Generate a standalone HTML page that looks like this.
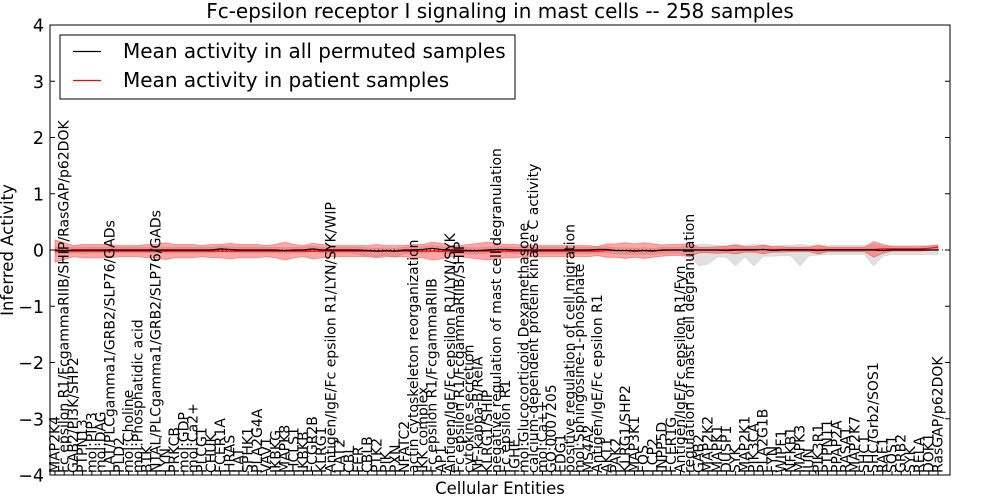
<!DOCTYPE html>
<html><head><meta charset="utf-8"><style>
body{margin:0;background:#fff;}
svg{display:block;font-family:"DejaVu Sans","Liberation Sans",sans-serif;}
</style></head><body>
<svg id="chart" width="1000" height="500" xmlns="http://www.w3.org/2000/svg">
<rect x="0" y="0" width="1000" height="500" fill="#fff"/>
<text x="500" y="18" font-size="20" text-anchor="middle">Fc-epsilon receptor I signaling in mast cells -- 258 samples</text>
<g id="plot"></g>
<rect x="50" y="25" width="900" height="450" fill="none" stroke="#000" stroke-width="1"/>
<g id="yaxis"></g>
<g id="xaxis"></g>
<text x="500" y="494" font-size="16.5" text-anchor="middle">Cellular Entities</text>
<text transform="translate(13,250) rotate(-90)" font-size="16.5" text-anchor="middle">Inferred Activity</text>
<g>
<rect x="60" y="35" width="455" height="64" fill="#fff" stroke="#000" stroke-width="1"/>
<line x1="73" y1="51.5" x2="101" y2="51.5" stroke="#000" stroke-width="1.2"/>
<text x="123" y="58" font-size="20">Mean activity in all permuted samples</text>
<line x1="73" y1="80.5" x2="101" y2="80.5" stroke="#f00" stroke-width="1.2"/>
<text x="123" y="87" font-size="20">Mean activity in patient samples</text>
</g>
</svg>
<script>
const entities=["MAP2K4","Fc epsilon R1/FcgammaRIIB/SHIP/RasGAP/p62DOK","GAB2/PI3K/SHP2","PTPN13","mol:PIP3","mol:DAG","LAT/PLCgamma1/GRB2/SLP76/GADs","PLD2","mol:Choline","mol:Phosphatidic acid","BTK","NTAL/PLCgamma1/GRB2/SLP76/GADs","LYN","PRKCB","mol:GDP","mol:Ca2+","PLCG1","CHUK","FCER1A","HRAS","LAT","SPHK1","PLA2G4A","VAV1","IKBKG","MAPK8","HCLS1","IKBKB","FCGR2B","KLRG1","Antigen/IgE/Fc epsilon R1/LYN/SYK/WIP","LAT2","CBL","FER","CBLB","PTK2","PIK","PXN","NFATC2","actin cytoskeleton reorganization","IKK complex","Fc epsilon R1/FcgammaRIIB","AP1","Antigen/IgE/Fc epsilon R1/LYN/SYK","Fc epsilon R1/FcgammaRIIB/SHIP","cytokine secretion","NF-kappa-B/RelA","KLRG1/SHIP","negative regulation of mast cell degranulation","Fc epsilon R1","IGHE","mol:Glucocorticoid Dexamethasone","calcium-dependent protein kinase C activity","mol:Ca++","GO:0007205","EDG1","positive regulation of cell migration","mol:Sphingosine-1-phosphate","MS4A2","Antigen/IgE/Fc epsilon R1","AKT1","PAK2","KLRG1/SHP2","MAP3K1","FOS","LCP2","INPP5D","FCER1G","Antigen/IgE/Fc epsilon R1/Fyn","regulation of mast cell degranulation","GAB2","MAP2K2","MAPK1","DUSP1","SYK","MAP2K1","PIK3CA","PLA2G1B","FYN","WIPF1","NFKB1","MAPK3","JUN","PIK3R1","PTPN11","PPAP2A","RASA1","MAP2K7","SHC1","SHC/Grb2/SOS1","RAF1","SOS1","GRB2","SYK","RELA","DOK1","RasGAP/p62DOK"];
const permMean=[0,-0.01,0,0,0,0,0,0,0,0,0,0,0,0,0,0,0,0,0.02,0.01,0,0,0,0,0,-0.01,0,0,0.02,0,0,0,0,0,-0.01,-0.02,-0.01,-0.02,0,0,0.01,0.03,0.01,0,0,-0.01,-0.01,0,0.01,0.01,0,0,0,0,0,0,0,0,0,0.01,0.01,-0.01,-0.01,-0.02,-0.01,-0.02,0,0,0,0,0,0,0,-0.01,0,0,0,0.01,-0.01,0,0,0,0,-0.01,0,0,0,0,0,0,-0.01,0,0,0,0,0,0];
const permLow=[0.06,0.06,0.05,0.06,0.05,0.05,0.05,0.05,0.05,0.05,0.05,0.05,0.05,0.05,0.05,0.05,0.05,0.05,0.05,0.05,0.05,0.05,0.05,0.05,0.05,0.05,0.05,0.05,0.05,0.05,0.05,0.05,0.05,0.08,0.1,0.1,0.08,0.12,0.06,0.06,0.06,0.06,0.06,0.06,0.06,0.06,0.06,0.06,0.06,0.06,0.06,0.06,0.06,0.06,0.06,0.06,0.06,0.06,0.06,0.06,0.06,0.06,0.06,0.06,0.06,0.06,0.06,0.06,0.06,0.12,0.28,0.25,0.12,0.12,0.28,0.12,0.28,0.12,0.1,0.1,0.1,0.28,0.1,0.08,0.08,0.08,0.08,0.08,0.08,0.28,0.1,0.08,0.08,0.08,0.08,0.08,0.08];
const permHigh=[0.05,0.05,0.05,0.05,0.05,0.05,0.05,0.05,0.05,0.05,0.05,0.05,0.05,0.05,0.05,0.05,0.05,0.05,0.05,0.05,0.05,0.05,0.05,0.05,0.05,0.05,0.05,0.05,0.05,0.05,0.05,0.05,0.05,0.05,0.05,0.05,0.05,0.05,0.05,0.05,0.05,0.05,0.05,0.05,0.05,0.05,0.05,0.05,0.05,0.05,0.05,0.05,0.05,0.05,0.05,0.05,0.05,0.05,0.05,0.05,0.05,0.05,0.05,0.05,0.05,0.05,0.05,0.05,0.05,0.08,0.1,0.1,0.08,0.08,0.1,0.08,0.1,0.08,0.08,0.08,0.08,0.1,0.08,0.08,0.08,0.08,0.08,0.08,0.08,0.1,0.08,0.08,0.08,0.08,0.08,0.08,0.08];
const patMean=[-0.02,-0.02,-0.02,-0.02,-0.02,-0.02,-0.02,-0.02,-0.02,-0.02,-0.02,-0.02,-0.02,-0.02,-0.02,-0.02,-0.02,-0.02,-0.02,-0.02,-0.02,-0.02,-0.02,-0.02,-0.02,-0.02,-0.02,-0.02,-0.02,-0.02,-0.02,-0.02,-0.02,-0.02,-0.02,-0.02,-0.02,-0.02,-0.02,-0.02,-0.02,-0.02,-0.02,-0.02,-0.02,-0.02,-0.02,-0.02,-0.02,-0.02,-0.02,-0.02,-0.02,-0.02,-0.02,-0.02,-0.02,-0.02,-0.02,-0.02,-0.01,-0.01,-0.01,-0.01,-0.01,-0.01,-0.01,0,0,0,0,0,0,0.01,0.01,0.01,0.01,0.01,0.01,0.01,0.01,0.01,0.01,0.01,0.01,0.01,0.01,0.01,0.01,0.01,0.02,0.02,0.02,0.02,0.02,0.03,0.05];
const patSpread=[0.2,0.15,0.1,0.12,0.12,0.12,0.12,0.1,0.1,0.1,0.12,0.12,0.15,0.12,0.12,0.12,0.1,0.12,0.12,0.14,0.12,0.12,0.12,0.1,0.12,0.16,0.12,0.1,0.14,0.12,0.1,0.1,0.1,0.1,0.1,0.12,0.1,0.1,0.1,0.12,0.12,0.16,0.14,0.1,0.1,0.12,0.14,0.16,0.14,0.12,0.12,0.1,0.1,0.1,0.1,0.1,0.1,0.1,0.1,0.08,0.12,0.12,0.14,0.12,0.14,0.12,0.1,0.1,0.1,0.12,0.05,0.05,0.06,0.06,0.08,0.05,0.05,0.08,0.05,0.05,0.04,0.04,0.04,0.08,0.04,0.04,0.04,0.04,0.04,0.14,0.08,0.04,0.04,0.04,0.04,0.04,0.04];

const NS='http://www.w3.org/2000/svg';
const X0=55, X1=938, Y0=250, YU=56.25;
function xs(i){return X0+i*(X1-X0)/(entities.length-1);}
function ys(v){return Y0-v*YU;}
function mk(tag,attrs,parent){const e=document.createElementNS(NS,tag);for(const k in attrs)e.setAttribute(k,attrs[k]);parent.appendChild(e);return e;}
const plot=document.getElementById('plot');
function band(mean,lo,hi,fill,op,name){
  let top=[],bot=[];
  for(let i=0;i<mean.length;i++){top.push(xs(i)+','+ys(mean[i]+hi[i]));bot.unshift(xs(i)+','+ys(mean[i]-lo[i]));}
  const p=mk('polygon',{points:top.concat(bot).join(' '),fill:fill,'fill-opacity':op,stroke:fill,'stroke-opacity':op,'stroke-width':0.8},plot);
  
  
}
function line(vals,color,name,dash){
  const pts=vals.map((v,i)=>xs(i)+','+ys(v)).join(' ');
  const a={points:pts,fill:'none',stroke:color,'stroke-width':1.2};
  if(dash)a['stroke-dasharray']=dash;
  const p=mk('polyline',a,plot);
  
  
}
band(permMean,permLow,permHigh,'#bbbbbb',0.45,'permuted-band');
band(patMean,patSpread,patSpread,'#f00',0.35,'patient-band');
const zl=mk('line',{x1:50,x2:950,y1:ys(0),y2:ys(0),stroke:'#000','stroke-width':1,'stroke-dasharray':'1,3'},plot);


line(patMean,'#f00','patient-mean-line');
line(permMean,'#000','permuted-mean-line');

const yticks=[4,3,2,1,0,-1,-2,-3,-4];
const ya=document.getElementById('yaxis');
yticks.forEach(v=>{
  const y=ys(v);
  mk('line',{x1:50,x2:55,y1:y,y2:y,stroke:'#000'},ya);
  mk('line',{x1:945,x2:950,y1:y,y2:y,stroke:'#000'},ya);
  const t=mk('text',{x:44,y:y+6.5,'font-size':17.5,'text-anchor':'end'},ya);
  t.textContent=(v<0?'\u2212'+(-v):String(v));
  
  
});
const xa=document.getElementById('xaxis');
entities.forEach((n,i)=>{
  const x=xs(i);
  mk('line',{x1:x,x2:x,y1:475,y2:471,stroke:'#000'},xa);
  const t=mk('text',{transform:'translate('+(x+4.5)+',473) rotate(-90)','font-size':14},xa);
  t.textContent=n;
  
  
});
</script>
</body></html>
